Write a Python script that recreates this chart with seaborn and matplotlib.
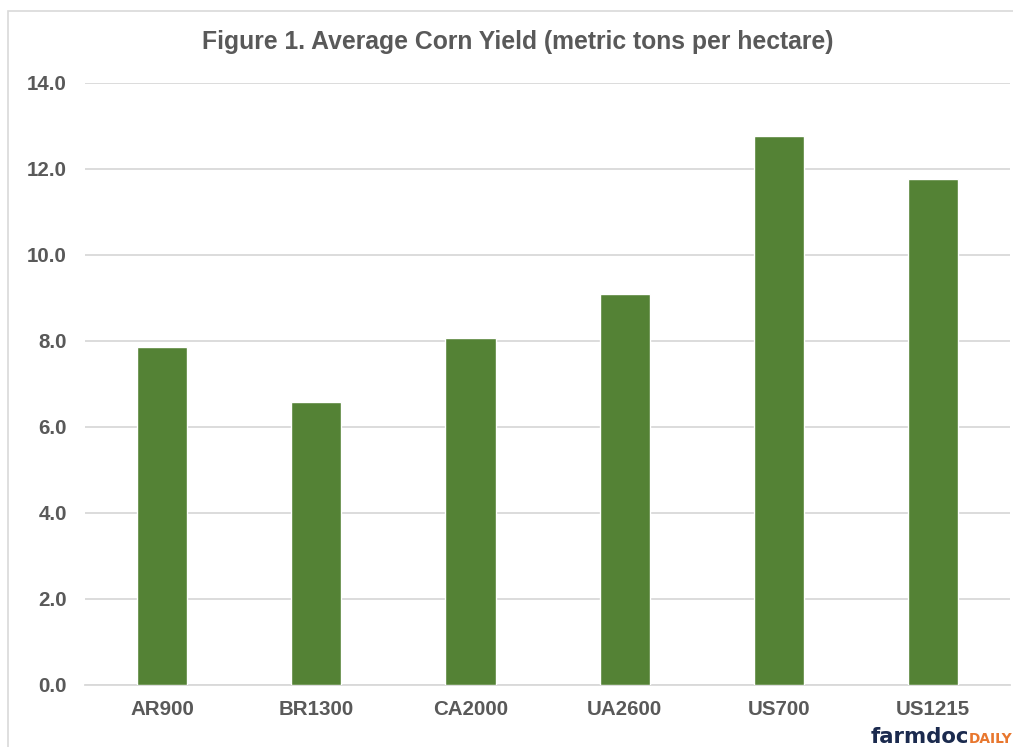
import pandas as pd
import seaborn as sns
import matplotlib.pyplot as plt
from matplotlib.patches import Rectangle

# values
sites = ['AR900', 'BR1300', 'CA2000', 'UA2600', 'US700', 'US1215']
yields = [7.87, 6.59, 8.07, 9.09, 12.77, 11.76]
yticks = [0, 2, 4, 6, 8, 10, 12, 14]

data = pd.DataFrame({'site': sites, 'yield': yields})

sns.set_style('white')
plt.rcParams['font.family'] = ['Liberation Sans', 'DejaVu Sans']

fig = plt.figure(figsize=(10.13, 7.47), dpi=100)
ax = fig.add_axes([0.084, 0.083, 0.913, 0.806])

sns.barplot(x='site', y='yield', data=data, color='#548235', saturation=1,
            width=0.325, ax=ax, zorder=3)

ax.set_ylim(0, 14)
ax.set_yticks(yticks)
ax.set_yticklabels([f'{v:.1f}' for v in yticks])
ax.yaxis.grid(True, color='#d9d9d9', linewidth=1.3, zorder=0)
ax.set_axisbelow(True)
for s in ['top', 'right', 'left']:
    ax.spines[s].set_visible(False)
ax.spines['bottom'].set_color('#d9d9d9')
ax.spines['bottom'].set_linewidth(1.3)
ax.tick_params(axis='both', length=0, labelsize=14.8, labelcolor='#595959')
ax.tick_params(axis='x', pad=11)
ax.tick_params(axis='y', pad=13)
for lab in ax.get_xticklabels() + ax.get_yticklabels():
    lab.set_fontweight('bold')
ax.set_xlabel('')
ax.set_ylabel('')

fig.text(0.511, 0.944, 'Figure 1. Average Corn Yield (metric tons per hectare)',
         ha='center', va='center', fontsize=17.8, fontweight='bold', color='#595959')

# light frame around the chart area
fig.patches.append(Rectangle((0.008, -0.01), 1.0, 0.995, transform=fig.transFigure,
                             fill=False, edgecolor='#d9d9d9', linewidth=1.2))

# farmdoc daily logo
fig.text(0.859, 0.005, 'farmdoc', ha='left', va='baseline', fontsize=15.3,
         fontweight='bold', color='#1b2a4e', family=['DejaVu Sans'])
fig.text(0.956, 0.005, 'DAILY', ha='left', va='baseline', fontsize=9.9,
         fontweight='bold', color='#e8772e', family=['DejaVu Sans'])

plt.savefig('out.png', dpi=100)
